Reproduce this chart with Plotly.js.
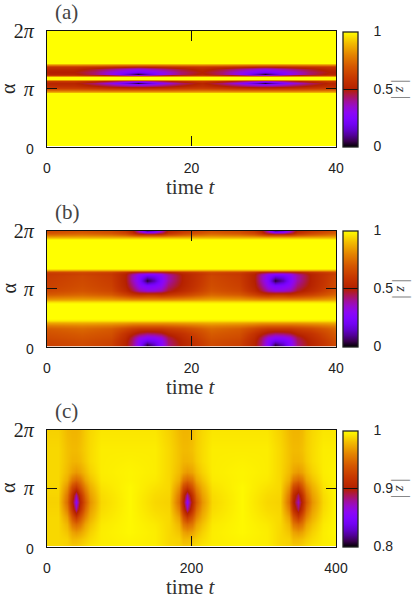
<!DOCTYPE html>
<html>
<head>
<meta charset="utf-8">
<script src="https://cdn.plot.ly/plotly-3.0.1.min.js"></script>
<style>
  html, body { margin: 0; padding: 0; background: #fff; }
  #grafico { width: 415px; height: 595px; }
</style>
</head>
<body>
<div id="grafico"></div>
<script>
/* paleta tipo gnuplot (rgbformulae 7,5,15) */
const paleta = [
  [0, "rgb(0,0,0)"], [0.05, "rgb(57,0,79)"], [0.1, "rgb(81,0,150)"],
  [0.15, "rgb(99,1,206)"], [0.2, "rgb(114,2,243)"], [0.25, "rgb(128,4,255)"],
  [0.3, "rgb(140,7,243)"], [0.35, "rgb(151,11,206)"], [0.4, "rgb(161,16,150)"],
  [0.45, "rgb(171,23,79)"], [0.5, "rgb(180,32,0)"], [0.6, "rgb(198,55,0)"],
  [0.7, "rgb(213,87,0)"], [0.8, "rgb(228,131,0)"], [0.9, "rgb(242,186,0)"],
  [0.95, "rgb(249,219,0)"], [1, "rgb(255,255,0)"],
];

/* ========= PAINEL (a) ========= */
const alfaA = [0, 2.90, 2.98, 3.06, 3.17, 3.28, 3.39, 3.48, 3.56, 3.63, 3.69, 3.74, 3.80, 3.85, 3.91, 3.97, 4.07, 4.21, 4.32, 4.40, 4.45, 4.53, 6.283];
const a0 = [1, 1, 0.88, 0.72, 0.56, 0.42, 0.26, 0.03, 0.35, 0.80, 1, 1, 1, 0.80, 0.35, 0.03, 0.22, 0.32, 0.48, 0.62, 0.75, 1, 1];
const a1 = [1, 1, 0.88, 0.72, 0.56, 0.42, 0.28, 0.12, 0.37, 0.80, 1, 1, 1, 0.80, 0.37, 0.12, 0.24, 0.34, 0.49, 0.62, 0.75, 1, 1];
const a2 = [1, 1, 0.88, 0.72, 0.57, 0.44, 0.32, 0.24, 0.42, 0.80, 1, 1, 1, 0.80, 0.42, 0.24, 0.28, 0.38, 0.51, 0.63, 0.75, 1, 1];
const a3 = [1, 1, 0.88, 0.72, 0.58, 0.47, 0.38, 0.33, 0.48, 0.81, 1, 1, 1, 0.81, 0.48, 0.33, 0.34, 0.42, 0.53, 0.64, 0.76, 1, 1];
const a4 = [1, 1, 0.88, 0.73, 0.60, 0.51, 0.45, 0.43, 0.54, 0.82, 1, 1, 1, 0.82, 0.54, 0.43, 0.43, 0.47, 0.55, 0.65, 0.77, 1, 1];
const a5 = [1, 1, 0.88, 0.74, 0.62, 0.56, 0.53, 0.52, 0.60, 0.83, 1, 1, 1, 0.83, 0.60, 0.52, 0.50, 0.53, 0.58, 0.66, 0.78, 1, 1];
const tempoA = [0, 3.8, 6.6, 8.6, 10.1, 11.6, 12.6, 13.6, 15.1, 16.6, 18.6, 21.4, 24.2, 26.2, 27.7, 29.2, 30.2, 31.2, 32.7, 34.2, 36.2, 39, 40];
const colunasA = [a5, a5, a4, a3, a2, a1, a0, a1, a2, a3, a4, a5, a4, a3, a2, a1, a0, a1, a2, a3, a4, a5, a5];

/* ========= PAINEL (b) ========= */
const alfaB = [0, 0.135, 0.30, 0.51, 0.73, 0.95, 1.16, 1.30, 1.41, 1.54, 2.33, 2.44, 2.57, 2.79, 3.06, 3.33, 3.60, 3.82, 3.98, 4.06, 4.14, 4.25, 5.80, 5.90, 6.04, 6.18, 6.283];
const b0 = [0.03, 0.05, 0.20, 0.28, 0.42, 0.60, 0.72, 0.85, 0.97, 1, 1, 0.95, 0.82, 0.60, 0.33, 0.25, 0.03, 0.20, 0.30, 0.55, 0.85, 1, 1, 0.90, 0.62, 0.30, 0.10];
const b1 = [0.12, 0.14, 0.22, 0.29, 0.43, 0.60, 0.72, 0.85, 0.97, 1, 1, 0.95, 0.82, 0.60, 0.34, 0.26, 0.12, 0.22, 0.30, 0.55, 0.85, 1, 1, 0.90, 0.62, 0.32, 0.18];
const b2 = [0.26, 0.27, 0.28, 0.33, 0.46, 0.60, 0.72, 0.85, 0.97, 1, 1, 0.95, 0.82, 0.58, 0.38, 0.30, 0.26, 0.28, 0.34, 0.55, 0.85, 1, 1, 0.90, 0.62, 0.42, 0.34];
const b3 = [0.42, 0.42, 0.43, 0.45, 0.52, 0.62, 0.73, 0.85, 0.97, 1, 1, 0.95, 0.82, 0.60, 0.47, 0.42, 0.38, 0.38, 0.42, 0.56, 0.85, 1, 1, 0.90, 0.66, 0.56, 0.52];
const b4 = [0.52, 0.52, 0.53, 0.55, 0.58, 0.65, 0.75, 0.86, 0.97, 1, 1, 0.95, 0.83, 0.64, 0.55, 0.52, 0.51, 0.51, 0.52, 0.60, 0.85, 1, 1, 0.90, 0.71, 0.63, 0.60];
const b5 = [0.62, 0.63, 0.64, 0.66, 0.68, 0.71, 0.78, 0.87, 0.97, 1, 1, 0.95, 0.85, 0.71, 0.65, 0.63, 0.62, 0.61, 0.60, 0.66, 0.85, 1, 1, 0.90, 0.75, 0.68, 0.66];
const b6 = [0.65, 0.66, 0.67, 0.69, 0.71, 0.74, 0.80, 0.88, 0.97, 1, 1, 0.95, 0.86, 0.74, 0.69, 0.67, 0.66, 0.65, 0.63, 0.68, 0.85, 1, 1, 0.90, 0.77, 0.71, 0.68];
const tempoB = [0, 4.9, 8.8, 10.8, 11.8, 12.8, 13.8, 14.8, 15.8, 16.8, 18.8, 22.7, 26.6, 28.6, 29.6, 30.6, 31.6, 32.6, 33.6, 34.6, 36.6, 40];
const colunasB = [b5, b6, b5, b4, b3, b2, b0, b1, b2, b3, b4, b6, b5, b4, b3, b2, b0, b1, b2, b3, b4, b6];

/* ========= PAINEL (c) ========= */
const alfaC = [0, 0.4, 0.8, 1.2, 1.6, 2.0, 2.41, 2.8, 3.2, 3.6, 4.0, 4.6, 5.2, 6.283];
const c0 = [0.985, 0.980, 0.968, 0.948, 0.920, 0.878, 0.858, 0.878, 0.920, 0.948, 0.968, 0.978, 0.980, 0.978];
const c0b = [0.985, 0.980, 0.968, 0.948, 0.920, 0.888, 0.874, 0.888, 0.920, 0.948, 0.968, 0.978, 0.980, 0.978];
const cm1 = [0.985, 0.980, 0.972, 0.955, 0.938, 0.915, 0.905, 0.912, 0.932, 0.955, 0.972, 0.978, 0.980, 0.978];
const cm2 = [0.987, 0.987, 0.983, 0.978, 0.970, 0.958, 0.950, 0.955, 0.965, 0.975, 0.980, 0.982, 0.982, 0.980];
const cm3 = [0.989, 0.989, 0.989, 0.989, 0.989, 0.988, 0.987, 0.988, 0.989, 0.989, 0.989, 0.989, 0.989, 0.987];
const cp1 = [0.987, 0.982, 0.972, 0.955, 0.938, 0.915, 0.905, 0.915, 0.938, 0.955, 0.972, 0.980, 0.982, 0.980];
const cp2 = [0.990, 0.986, 0.980, 0.972, 0.960, 0.948, 0.940, 0.948, 0.960, 0.972, 0.980, 0.985, 0.986, 0.985];
const cp3 = [0.993, 0.990, 0.987, 0.982, 0.976, 0.970, 0.966, 0.970, 0.976, 0.982, 0.987, 0.990, 0.990, 0.989];
const cp4 = [0.995, 0.995, 0.995, 0.994, 0.992, 0.990, 0.989, 0.990, 0.992, 0.994, 0.995, 0.995, 0.995, 0.993];
const cMeio = [0.996, 0.997, 0.998, 0.998, 0.998, 0.998, 0.998, 0.998, 0.998, 0.997, 0.997, 0.996, 0.995, 0.993];
const tempoC = [2.5, 15, 28, 34, 40, 46, 52, 60, 75, 115, 150, 169, 182, 188, 194, 200, 206, 214, 229, 270, 305, 322, 335, 341, 347, 353, 359, 367, 382, 400];
const colunasC = [cm3, cm3, cm2, cm1, c0, cp1, cp2, cp3, cp4, cMeio, cp4, cm3, cm2, cm1, c0, cp1, cp2, cp3, cp4, cMeio, cp4, cm3, cm2, cm1, c0b, cp1, cp2, cp3, cp4, cMeio];

/* colunas (uma por tempo) -> matriz linhas por colunas */
function montarMatriz(colunas) {
  return colunas[0].map((_, i) => colunas.map((col) => col[i]));
}

const largura = 415;
const altura = 595;
const fonteSerif = "Liberation Serif";
const fonteSans = "Liberation Sans";

const paineis = [
  { letra: "(a)", x: tempoA, y: alfaA, z: montarMatriz(colunasA), tMax: 40, xt: [0, 20, 40], zMin: 0, zMax: 1, zTicks: [0, 0.5, 1], topo: 31, base: 146.5 },
  { letra: "(b)", x: tempoB, y: alfaB, z: montarMatriz(colunasB), tMax: 40, xt: [0, 20, 40], zMin: 0, zMax: 1, zTicks: [0, 0.5, 1], topo: 230.5, base: 346.5 },
  { letra: "(c)", x: tempoC, y: alfaC, z: montarMatriz(colunasC), tMax: 400, xt: [0, 200, 400], zMin: 0.8, zMax: 1, zTicks: [0.8, 0.9, 1], topo: 430, base: 546.5 },
];

const dados = [];
const layout = {
  width: largura,
  height: altura,
  margin: { l: 0, r: 0, t: 0, b: 0 },
  paper_bgcolor: "#fff",
  plot_bgcolor: "#fff",
  showlegend: false,
  annotations: [],
};

paineis.forEach((p, i) => {
  const sufixo = i === 0 ? "" : String(i + 1);
  const dominioY = [1 - p.base / altura, 1 - p.topo / altura];

  dados.push({
    type: "heatmap",
    x: p.x,
    y: p.y,
    z: p.z,
    xaxis: "x" + sufixo,
    yaxis: "y" + sufixo,
    zmin: p.zMin,
    zmax: p.zMax,
    zsmooth: "best",
    colorscale: paleta,
    colorbar: {
      x: 343 / largura,
      xanchor: "left",
      xpad: 0,
      ypad: 0,
      y: dominioY[0],
      yanchor: "bottom",
      len: dominioY[1] - dominioY[0],
      thickness: 15,
      outlinecolor: "#222",
      outlinewidth: 1.3,
      ticks: "inside",
      ticklen: 15,
      tickcolor: "#111",
      tickwidth: 1.3,
      tickmode: "array",
      tickvals: p.zTicks,
      // espaços empurram o rótulo para longe da barra
      ticktext: p.zTicks.map((v) => "\u00a0\u00a0\u00a0" + v),
      tickfont: { family: fonteSans, size: 14, color: "#222" },
    },
  });

  layout["xaxis" + sufixo] = {
    domain: [47 / largura, 336 / largura],
    range: [0, p.tMax],
    anchor: "y" + sufixo,
    ticks: "inside",
    ticklen: 10,
    tickwidth: 1.3,
    tickcolor: "#111",
    mirror: "allticks",
    showline: true,
    linecolor: "#111",
    linewidth: 1.3,
    showgrid: false,
    zeroline: false,
    tickmode: "array",
    tickvals: p.xt,
    ticktext: p.xt.map(String),
    ticklabelstandoff: 9,
    tickfont: { family: fonteSans, size: 14, color: "#222" },
  };

  layout["yaxis" + sufixo] = {
    domain: dominioY,
    range: [0, 2 * Math.PI],
    anchor: "x" + sufixo,
    ticks: "inside",
    ticklen: 10,
    tickwidth: 1.3,
    tickcolor: "#111",
    mirror: "allticks",
    showline: true,
    linecolor: "#111",
    linewidth: 1.3,
    showgrid: false,
    zeroline: false,
    tickmode: "array",
    tickvals: [0, Math.PI, 2 * Math.PI],
    ticktext: ['<span style="font-family:Liberation Sans;font-size:14px">0</span>', "<i>π</i>", "2<i>π</i>"],
    ticklabelstandoff: 8,
    tickfont: { family: fonteSerif, size: 20, color: "#222" },
  };

  layout.annotations.push(
    { text: p.letra, xref: "paper", yref: "paper", x: 53 / largura, y: 1 - (p.topo - 19) / altura, xanchor: "left", yanchor: "middle", showarrow: false, font: { family: fonteSerif, size: 21, color: "#444" } },
    { text: "time <i>t</i>", xref: "paper", yref: "paper", x: 191 / largura, y: 1 - (p.base + 40) / altura, xanchor: "center", yanchor: "middle", showarrow: false, font: { family: fonteSerif, size: 21, color: "#333" } },
    { text: "α", xref: "paper", yref: "paper", x: 8 / largura, y: 1 - (p.topo + 58) / altura, xanchor: "center", yanchor: "middle", textangle: -90, showarrow: false, font: { family: fonteSerif, size: 20, color: "#222" } },
    { text: '<span style="font-size:22px;fill:#888">|</span>\u2009<i>z</i>\u2009<span style="font-size:22px;fill:#888">|</span>', xref: "paper", yref: "paper", x: 404 / largura, y: 1 - (p.topo + 58) / altura, xanchor: "center", yanchor: "middle", textangle: 90, showarrow: false, font: { family: fonteSerif, size: 15, color: "#333" } },
  );
});

Plotly.newPlot("grafico", dados, layout, { displayModeBar: false, responsive: false });
</script>
</body>
</html>
